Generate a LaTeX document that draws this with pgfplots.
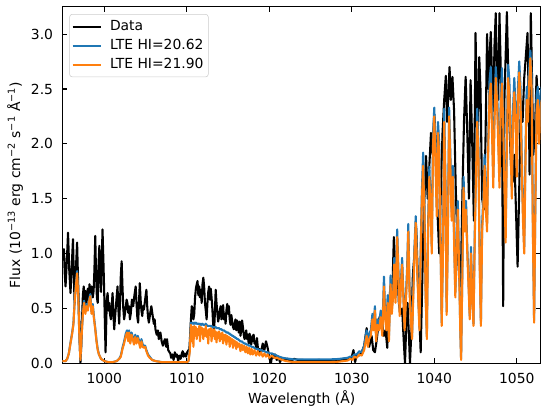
\documentclass[border=0pt]{standalone}
\usepackage{fontspec}
\setmainfont{DejaVu Sans}
\usepackage{pgfplots}
\usepackage{pgfplotstable}
\pgfplotsset{compat=1.18}

\definecolor{mplblue}{HTML}{1F77B4}
\definecolor{mplorange}{HTML}{FF7F0E}

% observed spectrum
\pgfplotstableread{
wl flux
994.9 0.95
995.1 1.04
995.2 0.82
995.3 0.70
995.45 0.92
995.6 1.19
995.75 0.85
995.9 0.64
996.05 0.88
996.2 1.13
996.3 0.80
996.4 0.55
996.55 0.85
996.7 1.10
996.8 0.80
996.9 0.55
997.0 0.25
997.1 0.00
997.2 0.15
997.3 0.40
997.4 0.62
997.5 0.70
997.6 0.58
997.7 0.66
997.8 0.52
997.9 0.60
998.0 0.68
998.1 0.58
998.2 0.72
998.3 0.63
998.45 0.70
998.6 0.60
998.7 0.66
998.8 0.85
998.9 1.16
999.0 0.80
999.1 0.60
999.2 0.55
999.3 0.90
999.4 1.07
999.5 0.78
999.6 0.65
999.7 0.95
999.78 1.22
999.9 0.90
1000.0 0.60
1000.15 0.10
1000.3 0.58
1000.4 0.64
1000.5 0.48
1000.6 0.55
1000.7 0.44
1000.8 0.40
1000.9 0.52
1001.0 0.64
1001.1 0.45
1001.2 0.31
1001.3 0.42
1001.45 0.56
1001.6 0.70
1001.7 0.50
1001.8 0.36
1001.9 0.55
1002.0 0.80
1002.1 0.93
1002.2 0.70
1002.3 0.50
1002.4 0.40
1002.55 0.48
1002.7 0.58
1002.8 0.55
1002.9 0.46
1003.0 0.52
1003.1 0.40
1003.2 0.45
1003.35 0.58
1003.5 0.52
1003.65 0.62
1003.8 0.70
1003.9 0.55
1004.0 0.42
1004.1 0.37
1004.2 0.55
1004.3 0.73
1004.4 0.58
1004.5 0.48
1004.6 0.43
1004.7 0.52
1004.8 0.49
1004.95 0.58
1005.1 0.67
1005.2 0.52
1005.3 0.42
1005.4 0.37
1005.55 0.45
1005.7 0.52
1005.85 0.44
1006.0 0.36
1006.1 0.40
1006.2 0.31
1006.35 0.26
1006.5 0.30
1006.6 0.22
1006.7 0.25
1006.8 0.28
1006.95 0.20
1007.1 0.16
1007.2 0.19
1007.35 0.22
1007.5 0.15
1007.6 0.22
1007.75 0.12
1007.9 0.10
1008.0 0.09
1008.1 0.05
1008.25 0.08
1008.4 0.03
1008.55 0.10
1008.7 0.06
1008.8 0.08
1008.95 0.02
1009.1 0.07
1009.25 0.04
1009.4 0.09
1009.5 0.11
1009.6 0.06
1009.75 0.09
1009.9 0.06
1010.05 0.10
1010.2 0.12
1010.3 0.11
1010.4 0.25
1010.5 0.40
1010.6 0.52
1010.7 0.50
1010.8 0.40
1010.9 0.45
1011.0 0.60
1011.1 0.68
1011.2 0.72
1011.3 0.75
1011.4 0.62
1011.5 0.70
1011.6 0.60
1011.7 0.67
1011.8 0.55
1011.9 0.72
1012.0 0.78
1012.1 0.70
1012.2 0.55
1012.3 0.48
1012.4 0.40
1012.5 0.55
1012.6 0.65
1012.7 0.70
1012.8 0.58
1012.9 0.68
1013.0 0.60
1013.1 0.49
1013.2 0.35
1013.3 0.29
1013.4 0.45
1013.5 0.67
1013.6 0.55
1013.7 0.46
1013.8 0.38
1013.9 0.42
1014.0 0.48
1014.1 0.52
1014.2 0.40
1014.3 0.46
1014.4 0.53
1014.5 0.40
1014.6 0.45
1014.7 0.36
1014.8 0.48
1014.9 0.54
1015.0 0.45
1015.1 0.52
1015.2 0.40
1015.3 0.35
1015.4 0.44
1015.5 0.38
1015.6 0.33
1015.7 0.31
1015.8 0.36
1015.9 0.40
1016.0 0.30
1016.1 0.39
1016.2 0.34
1016.3 0.28
1016.4 0.38
1016.5 0.25
1016.6 0.30
1016.7 0.39
1016.8 0.33
1016.9 0.26
1017.0 0.22
1017.1 0.25
1017.2 0.30
1017.3 0.22
1017.4 0.26
1017.5 0.18
1017.6 0.27
1017.7 0.24
1017.8 0.17
1017.9 0.21
1018.0 0.25
1018.1 0.26
1018.2 0.18
1018.3 0.20
1018.4 0.14
1018.5 0.23
1018.6 0.15
1018.7 0.10
1018.8 0.13
1018.9 0.09
1019.0 0.10
1019.2 0.18
1019.4 0.12
1019.6 0.20
1019.8 0.14
1020.0 0.05
1020.2 0.00
1020.35 0.08
1020.5 0.05
1020.7 0.08
1020.9 0.03
1021.1 0.06
1021.3 0.01
1021.5 0.05
1021.8 0.03
1022.2 0.04
1022.6 0.02
1023.0 0.04
1023.5 0.03
1024 0.03
1025 0.025
1026 0.03
1027 0.025
1028 0.03
1028.6 0.03
1029.0 0.04
1029.4 0.03
1029.8 0.05
1030.0 0.06
1030.2 0.12
1030.4 0.01
1030.6 0.08
1030.9 0.07
1031.2 0.10
1031.5 0.16
1031.8 0.32
1031.95 0.20
1032.1 0.15
1032.4 0.25
1032.6 0.12
1032.8 0.10
1033.0 0.20
1033.3 0.40
1033.5 0.45
1033.7 0.35
1033.9 0.25
1034.1 0.30
1034.3 0.14
1034.5 0.55
1034.7 0.70
1034.9 0.62
1035.1 1.15
1035.3 0.80
1035.5 0.95
1035.7 0.55
1035.9 0.45
1036.1 0.50
1036.3 0.20
1036.45 0.00
1036.6 0.35
1036.75 0.55
1036.9 0.30
1037.05 0.00
1037.2 0.25
1037.4 0.80
1037.6 1.00
1037.8 1.25
1038.0 0.80
1038.2 0.40
1038.35 0.10
1038.5 0.60
1038.7 1.30
1038.85 1.60
1039.0 1.89
1039.2 1.50
1039.4 1.80
1039.6 2.10
1039.8 1.90
1040.0 2.27
1040.2 2.00
1040.4 1.35
1040.6 1.00
1040.8 1.60
1041.0 2.10
1041.2 2.40
1041.4 2.62
1041.55 2.20
1041.7 2.45
1041.85 2.70
1042.0 2.40
1042.2 2.61
1042.4 2.30
1042.6 1.60
1042.8 1.10
1043.0 0.80
1043.2 0.70
1043.4 1.50
1043.6 2.20
1043.8 2.61
1044.0 2.10
1044.2 1.50
1044.4 2.58
1044.6 2.00
1044.8 1.30
1045.0 3.01
1045.15 2.40
1045.3 2.20
1045.45 2.79
1045.6 2.50
1045.8 1.50
1046.0 1.40
1046.2 2.00
1046.4 3.00
1046.55 2.50
1046.7 2.80
1046.85 3.02
1047.0 2.60
1047.15 2.30
1047.3 2.90
1047.45 3.19
1047.6 2.60
1047.75 2.40
1047.9 3.19
1048.05 2.70
1048.2 2.30
1048.35 0.52
1048.5 2.40
1048.65 2.80
1048.8 3.20
1048.95 2.70
1049.1 2.20
1049.3 1.80
1049.5 1.65
1049.7 1.90
1049.9 1.40
1050.1 0.88
1050.3 1.60
1050.5 2.40
1050.7 2.20
1050.9 2.60
1051.1 2.80
1051.3 3.01
1051.45 2.40
1051.55 1.72
1051.7 3.19
1051.85 2.60
1052.0 1.90
1052.2 2.10
1052.4 2.62
1052.6 2.30
1052.8 2.20
1053.0 2.40
}\obsdata

% LTE models: b = HI 20.62, o = HI 21.90
\pgfplotstableread{
wl b o
994.9 0.02 0.02
995.3 0.02 0.02
995.5 0.04 0.04
995.7 0.09 0.09
995.9 0.19 0.18
996.1 0.28 0.27
996.25 0.36 0.35
996.4 0.56 0.55
996.55 0.72 0.70
996.7 0.84 0.82
996.85 0.62 0.60
996.95 0.31 0.30
997.1 0.03 0.03
997.25 0.26 0.25
997.4 0.46 0.45
997.55 0.57 0.55
997.7 0.47 0.45
997.85 0.54 0.52
998.0 0.50 0.48
998.15 0.58 0.56
998.3 0.63 0.61
998.45 0.47 0.45
998.6 0.54 0.52
998.75 0.42 0.40
998.9 0.32 0.31
999.05 0.21 0.20
999.2 0.13 0.12
999.35 0.08 0.08
999.6 0.04 0.04
1000.0 0.02 0.02
1000.5 0.01 0.01
1001.0 0.01 0.01
1001.5 0.02 0.02
1001.8 0.04 0.04
1002.0 0.07 0.06
1002.2 0.14 0.13
1002.4 0.20 0.18
1002.6 0.27 0.25
1002.75 0.30 0.28
1002.9 0.22 0.20
1003.0 0.30 0.28
1003.15 0.20 0.18
1003.3 0.28 0.26
1003.45 0.24 0.22
1003.6 0.19 0.17
1003.75 0.26 0.24
1003.9 0.20 0.18
1004.05 0.25 0.23
1004.2 0.21 0.19
1004.35 0.16 0.14
1004.5 0.22 0.20
1004.65 0.17 0.15
1004.8 0.16 0.14
1004.95 0.16 0.15
1005.1 0.12 0.11
1005.3 0.08 0.07
1005.5 0.06 0.05
1005.8 0.03 0.03
1006.2 0.02 0.02
1007 0.01 0.01
1008 0.01 0.01
1009 0.01 0.01
1010 0.01 0.01
1010.2 0.02 0.02
1010.35 0.12 0.10
1010.5 0.37 0.35
1010.6 0.36 0.20
1010.7 0.37 0.33
1010.8 0.36 0.15
1010.9 0.37 0.34
1011.0 0.36 0.25
1011.1 0.37 0.33
1011.2 0.36 0.22
1011.3 0.36 0.31
1011.4 0.36 0.26
1011.5 0.36 0.34
1011.6 0.35 0.20
1011.7 0.36 0.33
1011.8 0.35 0.27
1011.9 0.36 0.32
1012.0 0.35 0.22
1012.1 0.35 0.31
1012.2 0.35 0.25
1012.3 0.36 0.34
1012.4 0.35 0.24
1012.5 0.34 0.30
1012.6 0.34 0.18
1012.7 0.34 0.31
1012.8 0.34 0.26
1012.9 0.34 0.32
1013.0 0.34 0.20
1013.1 0.33 0.30
1013.2 0.33 0.25
1013.3 0.33 0.31
1013.4 0.33 0.22
1013.5 0.33 0.29
1013.6 0.32 0.19
1013.7 0.32 0.28
1013.8 0.32 0.23
1013.9 0.32 0.29
1014.0 0.31 0.20
1014.1 0.31 0.27
1014.2 0.31 0.22
1014.3 0.30 0.28
1014.4 0.30 0.18
1014.5 0.30 0.26
1014.6 0.29 0.21
1014.7 0.29 0.26
1014.8 0.28 0.17
1014.9 0.28 0.25
1015.0 0.28 0.20
1015.1 0.27 0.24
1015.2 0.27 0.15
1015.3 0.26 0.23
1015.4 0.26 0.18
1015.5 0.25 0.22
1015.6 0.25 0.14
1015.7 0.24 0.21
1015.8 0.24 0.16
1015.9 0.23 0.20
1016.0 0.23 0.13
1016.1 0.22 0.19
1016.2 0.22 0.15
1016.35 0.21 0.18
1016.5 0.20 0.11
1016.65 0.20 0.17
1016.8 0.19 0.12
1016.95 0.18 0.16
1017.1 0.18 0.10
1017.25 0.17 0.15
1017.4 0.17 0.09
1017.55 0.16 0.14
1017.7 0.16 0.08
1017.85 0.15 0.13
1018.0 0.15 0.08
1018.2 0.14 0.12
1018.4 0.13 0.07
1018.6 0.13 0.11
1018.8 0.12 0.07
1019.0 0.12 0.10
1019.2 0.11 0.06
1019.4 0.11 0.09
1019.6 0.10 0.06
1019.8 0.10 0.08
1020.0 0.09 0.05
1020.3 0.09 0.07
1020.6 0.08 0.05
1020.9 0.07 0.05
1021.2 0.06 0.04
1021.6 0.05 0.03
1022.0 0.045 0.02
1022.5 0.04 0.015
1023 0.035 0.01
1024 0.035 0.01
1025 0.035 0.01
1026 0.035 0.01
1027 0.035 0.01
1028 0.037 0.012
1028.5 0.04 0.015
1029 0.045 0.02
1029.5 0.05 0.025
1029.8 0.06 0.04
1030.1 0.06 0.03
1030.3 0.08 0.06
1030.6 0.08 0.05
1030.9 0.11 0.08
1031.2 0.10 0.07
1031.5 0.16 0.12
1031.8 0.30 0.25
1031.95 0.20 0.15
1032.1 0.27 0.22
1032.3 0.30 0.25
1032.5 0.45 0.40
1032.65 0.35 0.30
1032.8 0.52 0.48
1032.95 0.25 0.20
1033.1 0.40 0.35
1033.3 0.35 0.30
1033.5 0.48 0.42
1033.7 0.30 0.25
1033.9 0.79 0.70
1034.05 0.45 0.40
1034.2 0.35 0.30
1034.35 0.62 0.55
1034.5 0.24 0.20
1034.7 0.80 0.72
1034.85 0.50 0.45
1035.0 0.65 0.60
1035.15 0.96 0.90
1035.3 0.60 0.55
1035.5 1.22 1.15
1035.65 0.86 0.80
1035.8 0.47 0.43
1035.95 0.75 0.70
1036.1 0.96 0.90
1036.25 0.65 0.60
1036.4 0.33 0.30
1036.55 0.60 0.55
1036.7 0.86 0.80
1036.85 1.27 1.20
1037.0 0.70 0.65
1037.15 0.44 0.40
1037.3 0.24 0.22
1037.45 0.65 0.60
1037.6 1.06 1.00
1037.75 1.34 1.28
1037.9 0.96 0.90
1038.05 0.64 0.60
1038.2 0.33 0.30
1038.35 1.06 1.00
1038.5 1.58 1.50
1038.65 1.92 1.80
1038.8 1.48 1.40
1038.95 0.64 0.60
1039.1 0.24 0.22
1039.25 1.27 1.20
1039.4 1.79 1.70
1039.55 1.48 1.40
1039.7 1.06 1.00
1039.85 2.10 2.00
1040.0 2.33 2.25
1040.15 1.90 1.80
1040.3 1.42 1.34
1040.45 2.20 2.10
1040.6 2.00 1.90
1040.75 1.17 1.10
1040.9 0.37 0.34
1041.05 1.06 1.00
1041.2 2.32 2.20
1041.35 1.70 1.60
1041.5 0.47 0.44
1041.65 1.28 1.20
1041.8 2.33 2.25
1041.95 1.90 1.80
1042.1 1.38 1.30
1042.25 1.80 1.70
1042.4 1.17 1.10
1042.55 0.64 0.60
1042.7 1.14 1.07
1042.85 1.48 1.40
1043.0 0.96 0.90
1043.15 0.32 0.30
1043.25 0.04 0.03
1043.4 0.85 0.80
1043.55 1.70 1.60
1043.7 1.28 1.20
1043.85 1.48 1.40
1044.0 1.06 1.00
1044.15 0.75 0.70
1044.3 0.43 0.40
1044.45 1.06 1.00
1044.6 0.64 0.60
1044.75 0.36 0.34
1044.9 1.17 1.10
1045.05 1.80 1.70
1045.2 2.32 2.20
1045.35 2.00 1.90
1045.5 0.96 0.90
1045.65 0.36 0.34
1045.8 1.27 1.20
1045.95 1.52 1.43
1046.1 1.90 1.80
1046.25 1.48 1.40
1046.4 1.27 1.20
1046.55 2.12 2.00
1046.7 2.58 2.45
1046.85 2.70 2.55
1047.0 2.22 2.10
1047.15 1.70 1.60
1047.3 2.32 2.20
1047.45 2.70 2.60
1047.6 2.52 2.40
1047.75 2.12 2.00
1047.9 1.70 1.60
1048.05 2.42 2.30
1048.2 2.69 2.55
1048.35 2.32 2.20
1048.5 1.70 1.60
1048.65 1.17 1.10
1048.8 2.12 2.00
1048.95 2.72 2.60
1049.1 2.58 2.45
1049.25 2.12 2.00
1049.4 1.59 1.50
1049.55 2.32 2.20
1049.7 2.60 2.47
1049.85 2.32 2.20
1050.0 1.80 1.70
1050.15 2.52 2.40
1050.3 2.75 2.65
1050.45 2.52 2.40
1050.6 1.90 1.80
1050.75 1.38 1.30
1050.9 1.06 1.00
1051.05 1.90 1.80
1051.2 2.52 2.40
1051.35 2.32 2.20
1051.5 2.68 2.55
1051.65 2.85 2.78
1051.8 2.62 2.50
1051.95 1.27 1.20
1052.1 0.39 0.37
1052.25 1.48 1.40
1052.4 2.44 2.30
1052.55 2.52 2.40
1052.7 2.12 2.00
1052.85 2.42 2.30
1053.0 2.52 2.40
}\models

\begin{document}
\begin{tikzpicture}
\path[use as bounding box] (-45pt,-32.2pt) rectangle (345.24pt,261.55pt);
\begin{axis}[
    at={(0,0)}, anchor=south west,
    scale only axis,
    width=344.3pt, height=256.75pt,
    xmin=994.93, xmax=1052.9,
    ymin=0, ymax=3.25,
    xtick={1000,1010,1020,1030,1040,1050},
    ytick={0,0.5,1,1.5,2,2.5,3},
    tick align=inside,
    major tick length=3.5pt,
    every tick/.style={black, line width=0.8pt},
    axis line style={line width=0.8pt},
    /pgf/number format/assume math mode=true,
    xticklabel style={/pgf/number format/1000 sep={}, yshift=-3.5pt},
    yticklabel style={/pgf/number format/fixed, /pgf/number format/fixed zerofill,
        /pgf/number format/precision=1, xshift=-3.3pt},
    tick label style={font=\fontsize{10}{12}\selectfont},
    label style={font=\fontsize{10}{12}\selectfont},
    xlabel={Wavelength (Å)},
    ylabel={Flux (10\textsuperscript{−13} erg cm\textsuperscript{−2} s\textsuperscript{−1} Å\textsuperscript{−1})},
    xlabel style={at={(axis description cs:0.5,-0.0996)}, anchor=center},
    ylabel style={at={(axis description cs:-0.0993,0.5)}, anchor=center},
    legend cell align=left,
    legend image code/.code={\draw[#1] (0pt,0pt) -- (20.7pt,0pt);},
    legend style={at={(0,1)}, anchor=north west, xshift=4.9pt, yshift=-5.3pt,
        draw=black!20, rounded corners=2pt, fill=white, fill opacity=0.8,
        text opacity=1, inner xsep=1.5pt, inner ysep=2pt,
        font=\fontsize{10}{12}\selectfont,
        nodes={inner xsep=2pt, inner ysep=2pt, text height=7.5pt, text depth=2.2pt},
        /tikz/every odd column/.append style={column sep=3.4pt}},
    every axis plot/.append style={line width=1.5pt, line join=round},
]
\addplot[black] table[x=wl, y=flux] {\obsdata};
\addlegendentry{Data}
\addplot[mplblue] table[x=wl, y=b] {\models};
\addlegendentry{LTE HI=20.62}
\addplot[mplorange] table[x=wl, y=o] {\models};
\addlegendentry{LTE HI=21.90}
\end{axis}
\end{tikzpicture}
\end{document}
